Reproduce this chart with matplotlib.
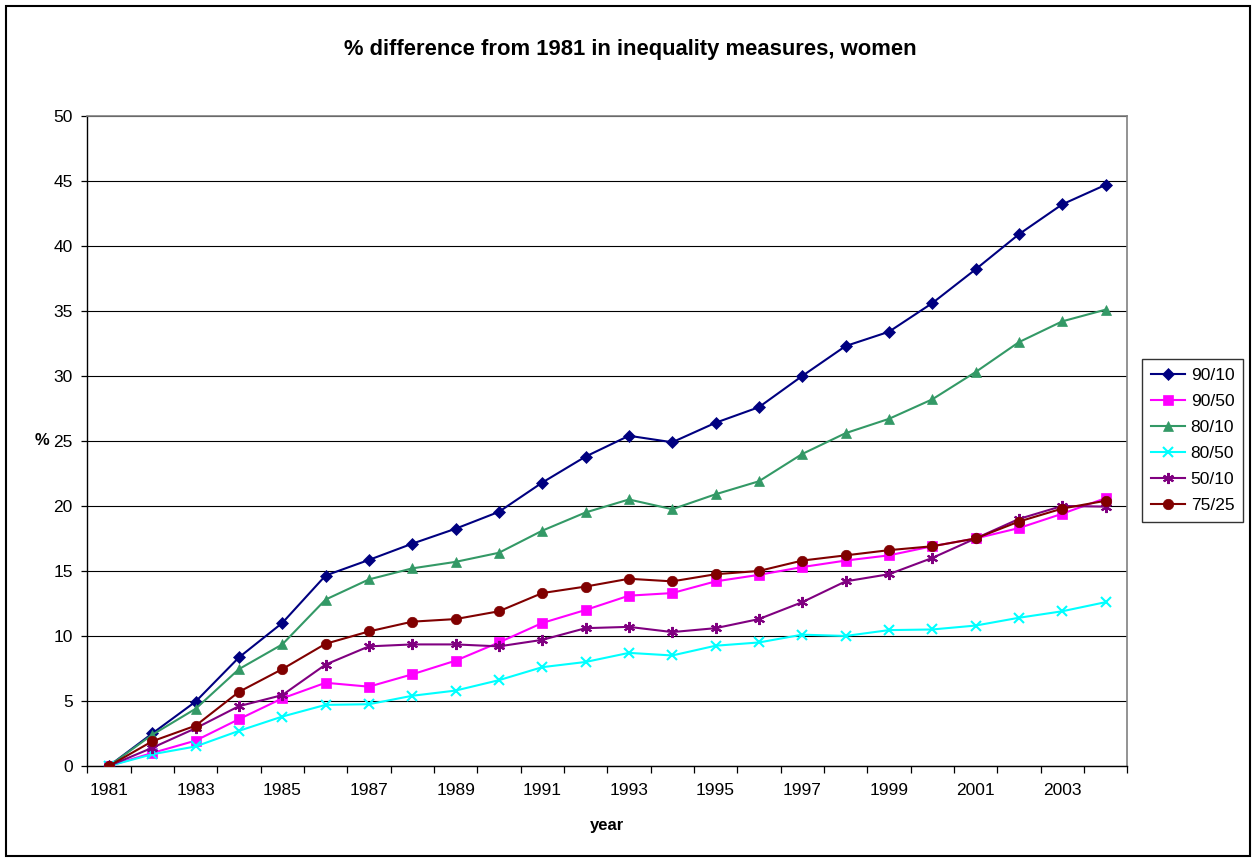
import numpy as np
import matplotlib
matplotlib.use("Agg")
import matplotlib.pyplot as plt
from matplotlib.patches import Rectangle

plt.rcParams["font.family"] = ["Liberation Sans", "DejaVu Sans"]

years = list(range(1981, 2005))

p90_10 = [0, 2.5, 4.95, 8.35, 11.0, 14.65, 15.85, 17.1, 18.25, 19.55, 21.8, 23.8,
          25.4, 24.9, 26.4, 27.6, 30.0, 32.3, 33.4, 35.6, 38.2, 40.9, 43.2, 44.7]
p90_50 = [0, 1.0, 1.95, 3.6, 5.2, 6.4, 6.1, 7.05, 8.1, 9.5, 11.0, 12.0,
          13.1, 13.3, 14.2, 14.7, 15.3, 15.8, 16.2, 16.9, 17.5, 18.3, 19.4, 20.6]
p80_10 = [0, 2.4, 4.4, 7.45, 9.35, 12.8, 14.35, 15.2, 15.7, 16.4, 18.1, 19.5,
          20.5, 19.75, 20.9, 21.9, 24.0, 25.6, 26.7, 28.2, 30.3, 32.6, 34.2, 35.1]
p80_50 = [0, 0.9, 1.5, 2.7, 3.8, 4.7, 4.75, 5.4, 5.8, 6.6, 7.6, 8.0,
          8.7, 8.5, 9.25, 9.5, 10.1, 10.0, 10.45, 10.5, 10.8, 11.4, 11.9, 12.6]
p50_10 = [0, 1.4, 2.9, 4.6, 5.45, 7.8, 9.2, 9.35, 9.35, 9.2, 9.7, 10.6,
          10.7, 10.3, 10.6, 11.3, 12.6, 14.2, 14.75, 16.0, 17.5, 19.0, 20.0, 19.95]
p75_25 = [0, 1.9, 3.1, 5.7, 7.45, 9.4, 10.35, 11.1, 11.3, 11.9, 13.3, 13.8,
          14.4, 14.2, 14.75, 15.0, 15.8, 16.2, 16.6, 16.9, 17.5, 18.8, 19.8, 20.4]

labels = ["90/10", "90/50", "80/10", "80/50", "50/10", "75/25"]
colors = ["#000080", "#FF00FF", "#339966", "#00FFFF", "#800080", "#800000"]
markers = ["D", "s", "^", "x", (6, 2, 0), "o"]
msizes = [6.5, 7, 7.5, 7, 8, 7.5]
series = [p90_10, p90_50, p80_10, p80_50, p50_10, p75_25]

fig = plt.figure(figsize=(12.54, 8.59), dpi=100)
ax = fig.add_axes([0.0696, 0.1083, 0.8293, 0.7567])

for vals, lab, col, mk, ms in zip(series, labels, colors, markers, msizes):
    ax.plot(years, vals, color=col, lw=1.5, marker=mk, markersize=ms,
            markeredgewidth=1.5 if mk in ("x", (6, 2, 0)) else 0.5,
            markeredgecolor=col, markerfacecolor=col, label=lab, zorder=3)

ax.set_xlim(1980.5, 2004.5)
ax.set_ylim(0, 50)
ax.set_yticks(np.arange(0, 51, 5))
ax.yaxis.grid(True, color="black", lw=0.8)
ax.set_axisbelow(True)

# category style axis: labels on odd years, ticks between categories
ax.set_xticks(years[::2])
ax.set_xticklabels([str(y) for y in years[::2]])
ax.set_xticks(np.arange(1980.5, 2005, 1), minor=True)
ax.tick_params(axis="x", which="major", length=0, pad=12, labelsize=12.5)
ax.tick_params(axis="x", which="minor", length=5, width=0.9, direction="out")
ax.tick_params(axis="y", length=4.5, width=0.9, direction="out", pad=6, labelsize=12.5)

for side in ("top", "right"):
    ax.spines[side].set_color("#808080")
    ax.spines[side].set_linewidth(1.2)
for side in ("left", "bottom"):
    ax.spines[side].set_color("black")
    ax.spines[side].set_linewidth(1.0)

fig.text(630 / 1254, 1 - 50 / 859,
         "% difference from 1981 in inequality measures, women",
         fontsize=15.8, fontweight="bold", ha="center", va="center")
ax.set_xlabel("year", fontsize=12, fontweight="bold", labelpad=15)
ax.set_ylabel("%", fontsize=12, fontweight="bold", rotation=0, labelpad=8, va="center")

leg = ax.legend(loc="upper left", bbox_to_anchor=(0.9107, 0.582),
                bbox_transform=fig.transFigure, borderaxespad=0,
                fontsize=12.5, handlelength=2.0, labelspacing=0.63,
                handletextpad=0.3, borderpad=0.5, fancybox=False,
                frameon=True, edgecolor="black")
leg.get_frame().set_linewidth(1.0)

# outer chart border
fig.patches.append(Rectangle((6 / 1254, 3 / 859), 1244 / 1254, 850 / 859,
                             transform=fig.transFigure, fill=False,
                             edgecolor="black", lw=1.5))

fig.savefig("out.png", dpi=100)
